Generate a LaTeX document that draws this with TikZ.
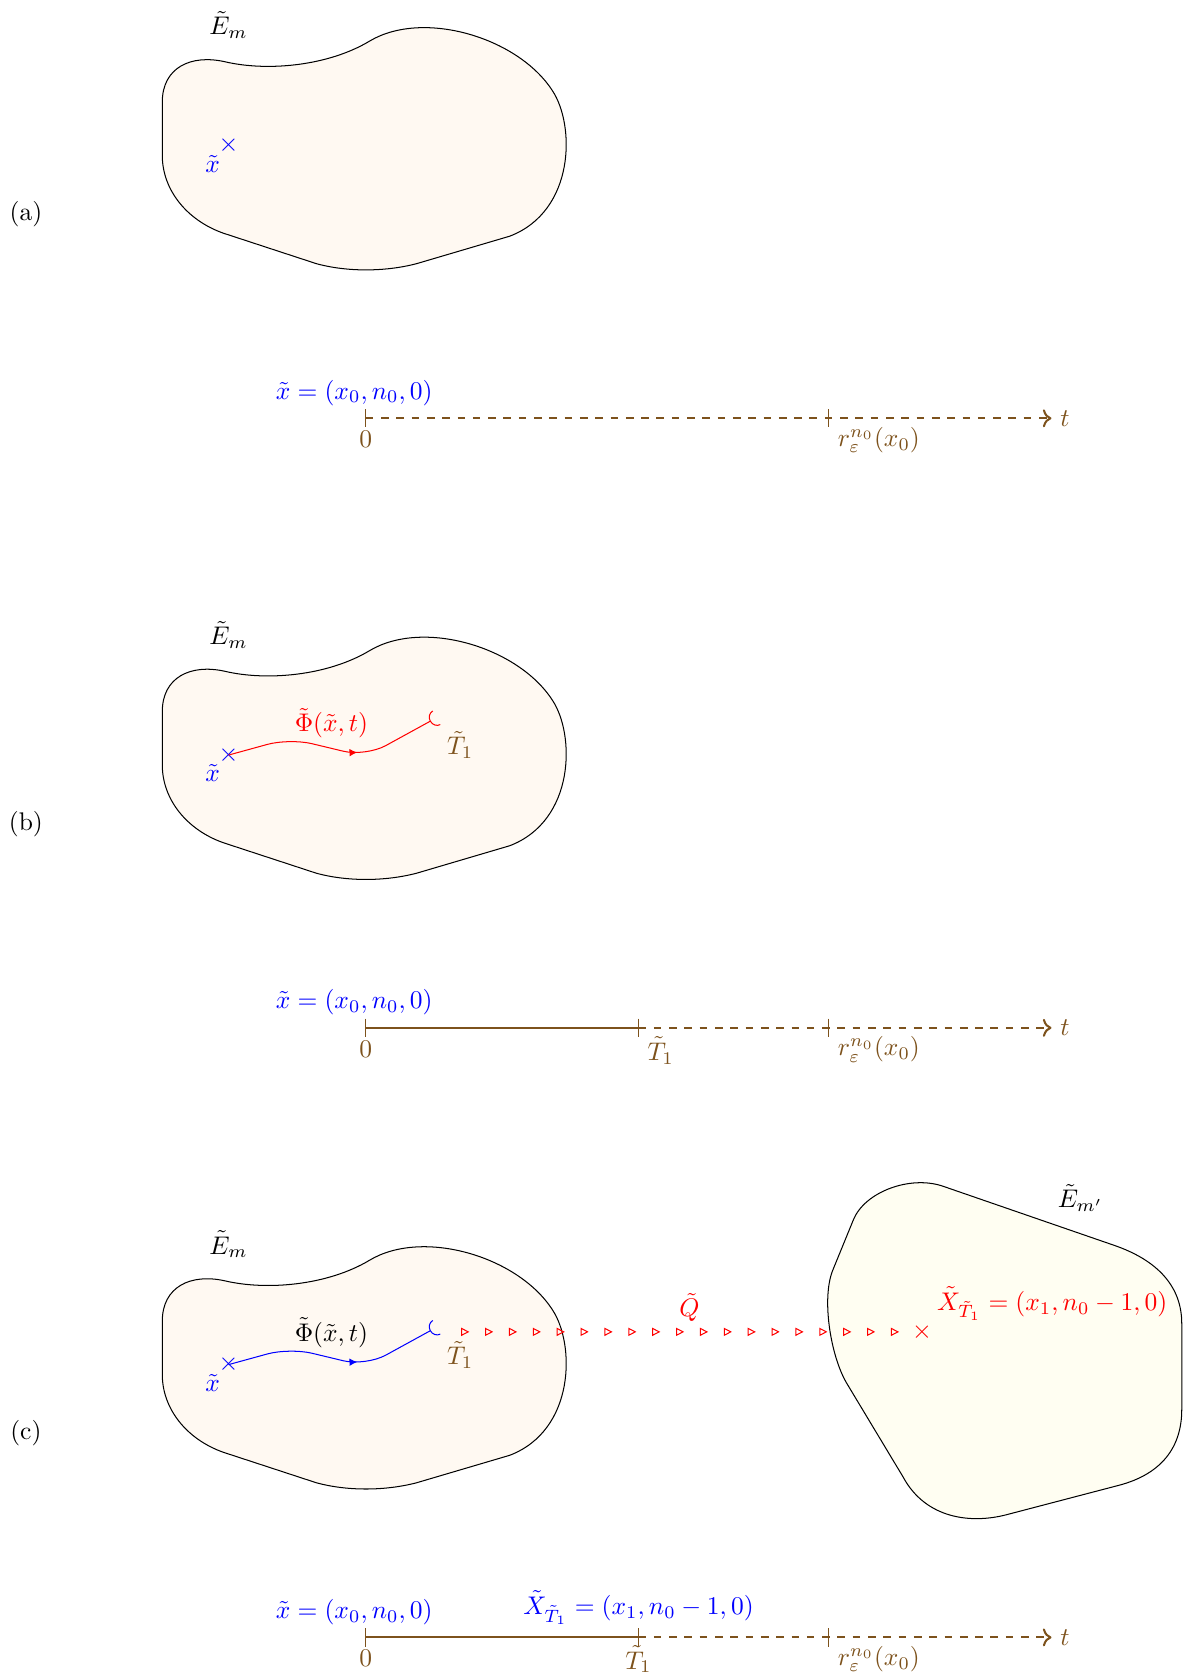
\documentclass[tikz,border=0pt]{standalone}
\usetikzlibrary{arrows.meta,decorations.markings}
\definecolor{tcol}{RGB}{125,82,28}

\begin{document}
\begin{tikzpicture}[x=1.05cm, y=1.05cm,
    blob/.style={draw=black, fill=orange!5},
    blobtwo/.style={draw=black, fill=yellow!5},
    timeax/.style={tcol, thick},
    tickmark/.style={tcol, thin},
    cross/.style={inner sep=0pt},
    flow/.style={rounded corners=9pt, -{Arc Barb[reversed,length=3pt,width=6.5pt]},
        decoration={markings, mark=at position 0.6 with {\arrow{Latex[length=3pt,width=3pt]}}},
        postaction={decorate}},
    jump/.style={decoration={markings,
        mark=between positions 0 and 1 step 0.329cm with {\arrow[red]{Triangle[open,length=3.2pt,width=3.2pt]}}},
        decorate}
]
\useasboundingbox (-4.80,-16.52) rectangle (10.72,5.49);

% the part shared by the three panels
\foreach \yy/\p in {0/a,-8/b,-16/c}{
  \begin{scope}[shift={(0,\yy)}]
    \draw[blob] (-2.67,3.45) -- (-2.67,4.15)
        .. controls (-2.67,4.60) and (-2.30,4.78) .. (-1.85,4.68)
        .. controls (-1.30,4.55) and (-0.50,4.62) .. (0.05,4.95)
        .. controls (0.75,5.37) and (2.00,5.00) .. (2.45,4.30)
        .. controls (2.75,3.85) and (2.75,2.72) .. (1.89,2.39)
        -- (0.67,2.03) .. controls (0.25,1.92) and (-0.25,1.92) .. (-0.65,2.03)
        -- (-1.87,2.43) .. controls (-2.35,2.60) and (-2.67,3.00) .. cycle;
    \node (em-\p) at (-1.80,5.16) {$\tilde{E}_m$};
    \node[blue, cross] (x-\p) at (-1.80,3.58) {$\times$};
    \node[blue] (xl-\p) at (-2.01,3.34) {$\tilde{x}$};
    \node (lab-\p) at (-4.46,2.68) {(\p)};
    \coordinate (o-\p) at (0,0);
    \coordinate (T-\p) at (3.58,0);
    \coordinate (r-\p) at (6.08,0);
    \coordinate (e-\p) at (9,0);
    \draw[tickmark] (0,0.12) -- (0,-0.12);
    \draw[tickmark] (6.08,0.12) -- (6.08,-0.12);
    \node[blue, above] (x0-\p) at (-0.15,0.05) {$\tilde{x}=(x_0,n_0,0)$};
    \node[tcol, below] (z-\p) at (0,-0.05) {$0$};
    \node[tcol, below right] (rl-\p) at (r-\p) {$r_\varepsilon^{n_0}(x_0)$};
    \node[tcol, right] (t-\p) at (e-\p) {$t$};
  \end{scope}
}

% (a)
\draw[timeax, dashed, ->] (o-a) -- (e-a);

% (b)
\begin{scope}[shift={(0,-8)}]
  \draw[red, flow] (x-b.center) -- (-1.0,3.80) -- (0.0,3.56) -- (0.93,4.07) coordinate (h-b);
  \node[red] (phi-b) at (-0.45,4.0) {$\tilde{\Phi}(\tilde{x},t)$};
  \node[tcol] (T1-b) at (1.24,3.71) {$\tilde{T}_1$};
  \draw[tickmark] (3.58,0.12) -- (3.58,-0.12);
  \node[tcol, below right] (Tl-b) at (T-b) {$\tilde{T}_1$};
\end{scope}
\draw[timeax] (o-b) -- (T-b);
\draw[timeax, dashed, ->] (T-b) -- (e-b);

% (c)
\begin{scope}[shift={(0,-16)}]
  \draw[blue, flow] (x-c.center) -- (-1.0,3.80) -- (0.0,3.56) -- (0.93,4.07) coordinate (h-c);
  \node (phi-c) at (-0.45,4.0) {$\tilde{\Phi}(\tilde{x},t)$};
  \node[tcol] (T1-c) at (1.24,3.71) {$\tilde{T}_1$};
  \draw[blobtwo] (6.40,5.48) .. controls (6.55,5.85) and (7.15,6.07) .. (7.58,5.92)
      -- (9.81,5.15) .. controls (10.40,4.95) and (10.71,4.60) .. (10.71,4.12)
      -- (10.71,2.99) .. controls (10.71,2.50) and (10.45,2.15) .. (9.90,2.00)
      -- (8.41,1.61) .. controls (7.95,1.49) and (7.35,1.55) .. (7.05,2.11)
      -- (6.31,3.34) .. controls (6.10,3.70) and (5.98,4.45) .. (6.13,4.82)
      -- cycle;
  \node (em2) at (9.38,5.77) {$\tilde{E}_{m'}$};
  \node[red, cross] (xt) at (7.30,4.01) {$\times$};
  \node[red, anchor=west] (xtl) at (7.38,4.38) {$\tilde{X}_{\tilde{T}_1}=(x_1,n_0-1,0)$};
  \node[red] (q) at (4.25,4.33) {$\tilde{Q}$};
  \coordinate (qs) at (1.36,4.01);
  \draw[red, jump] (qs) -- (xt.west);
  \draw[tickmark] (3.58,0.12) -- (3.58,-0.12);
  \node[tcol, below, inner sep=1.5pt] (Tl-c) at (3.58,-0.05) {$\tilde{T}_1$};
  \node[blue, above] (xtb) at (3.58,0.05) {$\tilde{X}_{\tilde{T}_1}=(x_1,n_0-1,0)$};
\end{scope}
\draw[timeax] (o-c) -- (T-c);
\draw[timeax, dashed, ->] (T-c) -- (e-c);
\end{tikzpicture}
\end{document}
